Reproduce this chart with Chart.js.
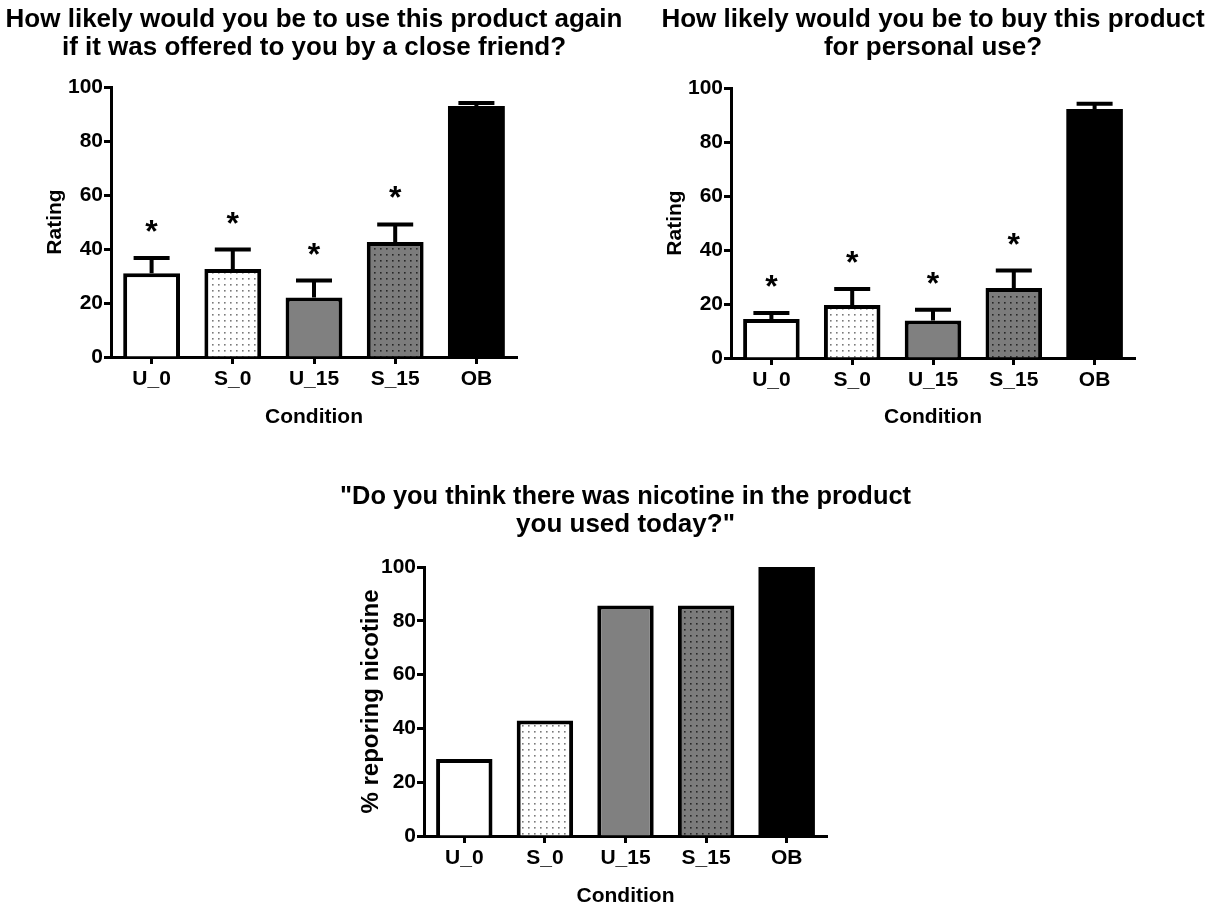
<!DOCTYPE html>
<html>
<head>
<meta charset="utf-8">
<script src="https://cdn.jsdelivr.net/npm/chart.js@4.4.1/dist/chart.umd.min.js"></script>
<style>
  html, body { margin: 0; padding: 0; background: #fff; overflow: hidden; width: 1212px; height: 907px; }
  .panel { position: absolute; }
  .panel canvas { display: block; }
</style>
</head>
<body>
<div class="panel" style="left:0px;top:0px;width:628px;height:440px"><canvas id="reuse" width="628" height="440"></canvas></div>
<div class="panel" style="left:660px;top:0px;width:546px;height:440px"><canvas id="buy" width="546" height="440"></canvas></div>
<div class="panel" style="left:340px;top:477px;width:571px;height:440px"><canvas id="nicotine" width="571" height="440"></canvas></div>
<script>
// Conditions on the x axis
const conditions = ['U_0', 'S_0', 'U_15', 'S_15', 'OB'];

// Likelihood of using the product again if offered by a close friend (mean, SEM)
const reuseMean = [31.0, 32.6, 22.0, 42.6, 93.0];
const reuseSem  = [5.7, 7.2, 6.3, 6.5, 1.1];
const reuseSig  = [true, true, true, true, false];

// Likelihood of buying the product for personal use (mean, SEM)
const buyMean = [14.4, 19.6, 13.9, 25.9, 92.2];
const buySem  = [2.3, 6.0, 4.0, 6.5, 2.0];
const buySig  = [true, true, true, true, false];

// Percentage of participants reporting nicotine in the product
const nicotinePct = [28.6, 42.9, 85.7, 85.7, 100];

// Y axis tick values shared by all three panels
const yTicks = [0, 20, 40, 60, 80, 100];

const FONT = '"Liberation Sans", Arial, Helvetica, sans-serif';

// Dotted fill used for the "S_" conditions
function dotPattern(bg, dot) {
  const tile = document.createElement('canvas');
  tile.width = 6; tile.height = 6;
  const t = tile.getContext('2d');
  t.fillStyle = bg; t.fillRect(0, 0, 6, 6);
  t.fillStyle = dot; t.fillRect(2, 2, 1.6, 1.6);
  return t.createPattern(tile, 'repeat');
}

function fillsFor() {
  return [
    '#ffffff',
    dotPattern('#ffffff', '#7a7a7a'),
    '#808080',
    dotPattern('#7c7c7c', '#262626'),
    '#000000'
  ];
}
// the solid black bar needs no separate outline
const outlineWidths = [4, 4, 4, 4, 0];

// Draws SEM error bars (upper half) and significance asterisks
const errorBarPlugin = {
  id: 'errBars',
  afterDatasetsDraw(chart, args, opts) {
    if (!opts || !opts.sem) return;
    const ctx = chart.ctx;
    const yScale = chart.scales.y;
    const meta = chart.getDatasetMeta(0);
    const values = chart.data.datasets[0].data;
    ctx.save();
    ctx.strokeStyle = '#000';
    ctx.fillStyle = '#000';
    ctx.lineWidth = 4;
    ctx.lineCap = 'butt';
    meta.data.forEach((bar, i) => {
      const v = values[i];
      const yBase = yScale.getPixelForValue(v);
      const yTop = yScale.getPixelForValue(v + opts.sem[i]);
      ctx.beginPath();
      ctx.moveTo(bar.x, yBase);
      ctx.lineTo(bar.x, yTop);
      ctx.moveTo(bar.x - 18, yTop);
      ctx.lineTo(bar.x + 18, yTop);
      ctx.stroke();
      if (opts.sig && opts.sig[i]) {
        ctx.font = 'bold 32px ' + FONT;
        ctx.textAlign = 'center';
        ctx.textBaseline = 'alphabetic';
        const m = ctx.measureText('*');
        const cy = yTop - 32;
        const baseY = cy + (m.actualBoundingBoxAscent - m.actualBoundingBoxDescent) / 2;
        ctx.fillText('*', bar.x, baseY);
      }
    });
    ctx.restore();
  }
};

function axisCommon() {
  return {
    grid: { display: true, drawOnChartArea: false, drawTicks: true, tickLength: 7, tickWidth: 3, tickColor: '#000', offset: false },
    border: { display: true, width: 3, color: '#000' }
  };
}

function buildChart(id, cfg) {
  const canvas = document.getElementById(id);
  const ctx = canvas.getContext('2d');
  const xc = axisCommon();
  const yc = axisCommon();
  return new Chart(ctx, {
    type: 'bar',
    data: {
      labels: conditions,
      datasets: [{
        data: cfg.values,
        backgroundColor: fillsFor(),
        borderColor: '#000',
        borderWidth: outlineWidths,
        borderSkipped: 'start',
        inflateAmount: 0,
        barPercentage: 0.7,
        categoryPercentage: 1.0
      }]
    },
    options: {
      responsive: false,
      animation: false,
      devicePixelRatio: 1,
      layout: { padding: 0 },
      plugins: {
        legend: { display: false },
        tooltip: { enabled: false },
        title: {
          display: true,
          text: cfg.title,
          color: '#000',
          font: { family: FONT, size: 26, weight: 'bold', lineHeight: '28px' },
          padding: { top: 6, bottom: cfg.titleGap }
        },
        errBars: cfg.err || {}
      },
      scales: {
        x: {
          grid: xc.grid,
          border: xc.border,
          ticks: { color: '#000', font: { family: FONT, size: 21, weight: 'bold' }, padding: 3, maxRotation: 0, autoSkip: false },
          title: {
            display: true, text: 'Condition', color: '#000',
            font: { family: FONT, size: 21, weight: 'bold' },
            padding: { top: 0, bottom: cfg.xTitlePad }
          },
          afterFit(s) { s.height = cfg.xHeight; }
        },
        y: {
          min: 0, max: 100,
          grid: yc.grid,
          border: yc.border,
          ticks: { color: '#000', font: { family: FONT, size: 21, weight: 'bold' }, padding: 1 },
          afterBuildTicks(s) { s.ticks = yTicks.map(v => ({ value: v })); },
          title: {
            display: true, text: cfg.yTitle, color: '#000',
            font: { family: FONT, size: cfg.yTitleSize, weight: 'bold' },
            padding: { top: cfg.yTitlePad, bottom: 0 }
          },
          afterFit(s) { s.width = cfg.yWidth; }
        },
        // empty right-hand margin so the title centres over the plot
        margin: {
          type: 'linear', position: 'right', display: true,
          grid: { display: false, drawTicks: false },
          border: { display: false },
          ticks: { display: false },
          afterFit(s) { s.width = cfg.rightPad; }
        }
      }
    },
    plugins: [errorBarPlugin]
  });
}

buildChart('reuse', {
  values: reuseMean,
  title: ['How likely would you be to use this product again', 'if it was offered to you by a close friend?'],
  yTitle: 'Rating', yTitleSize: 21, yTitlePad: 43,
  yWidth: 111, rightPad: 111, titleGap: 25, xHeight: 83, xTitlePad: 10,
  err: { sem: reuseSem, sig: reuseSig }
});

buildChart('buy', {
  values: buyMean,
  title: ['How likely would you be to buy this product', 'for personal use?'],
  yTitle: 'Rating', yTitleSize: 21, yTitlePad: 3,
  yWidth: 71, rightPad: 71, titleGap: 26, xHeight: 82, xTitlePad: 10,
  err: { sem: buySem, sig: buySig }
});

buildChart('nicotine', {
  values: nicotinePct,
  title: ['"Do you think there was nicotine in the product', 'you used today?"'],
  yTitle: '% reporing nicotine', yTitleSize: 24, yTitlePad: 17,
  yWidth: 84, rightPad: 84, titleGap: 28, xHeight: 81, xTitlePad: 8,
  err: null
});
</script>
</body>
</html>
